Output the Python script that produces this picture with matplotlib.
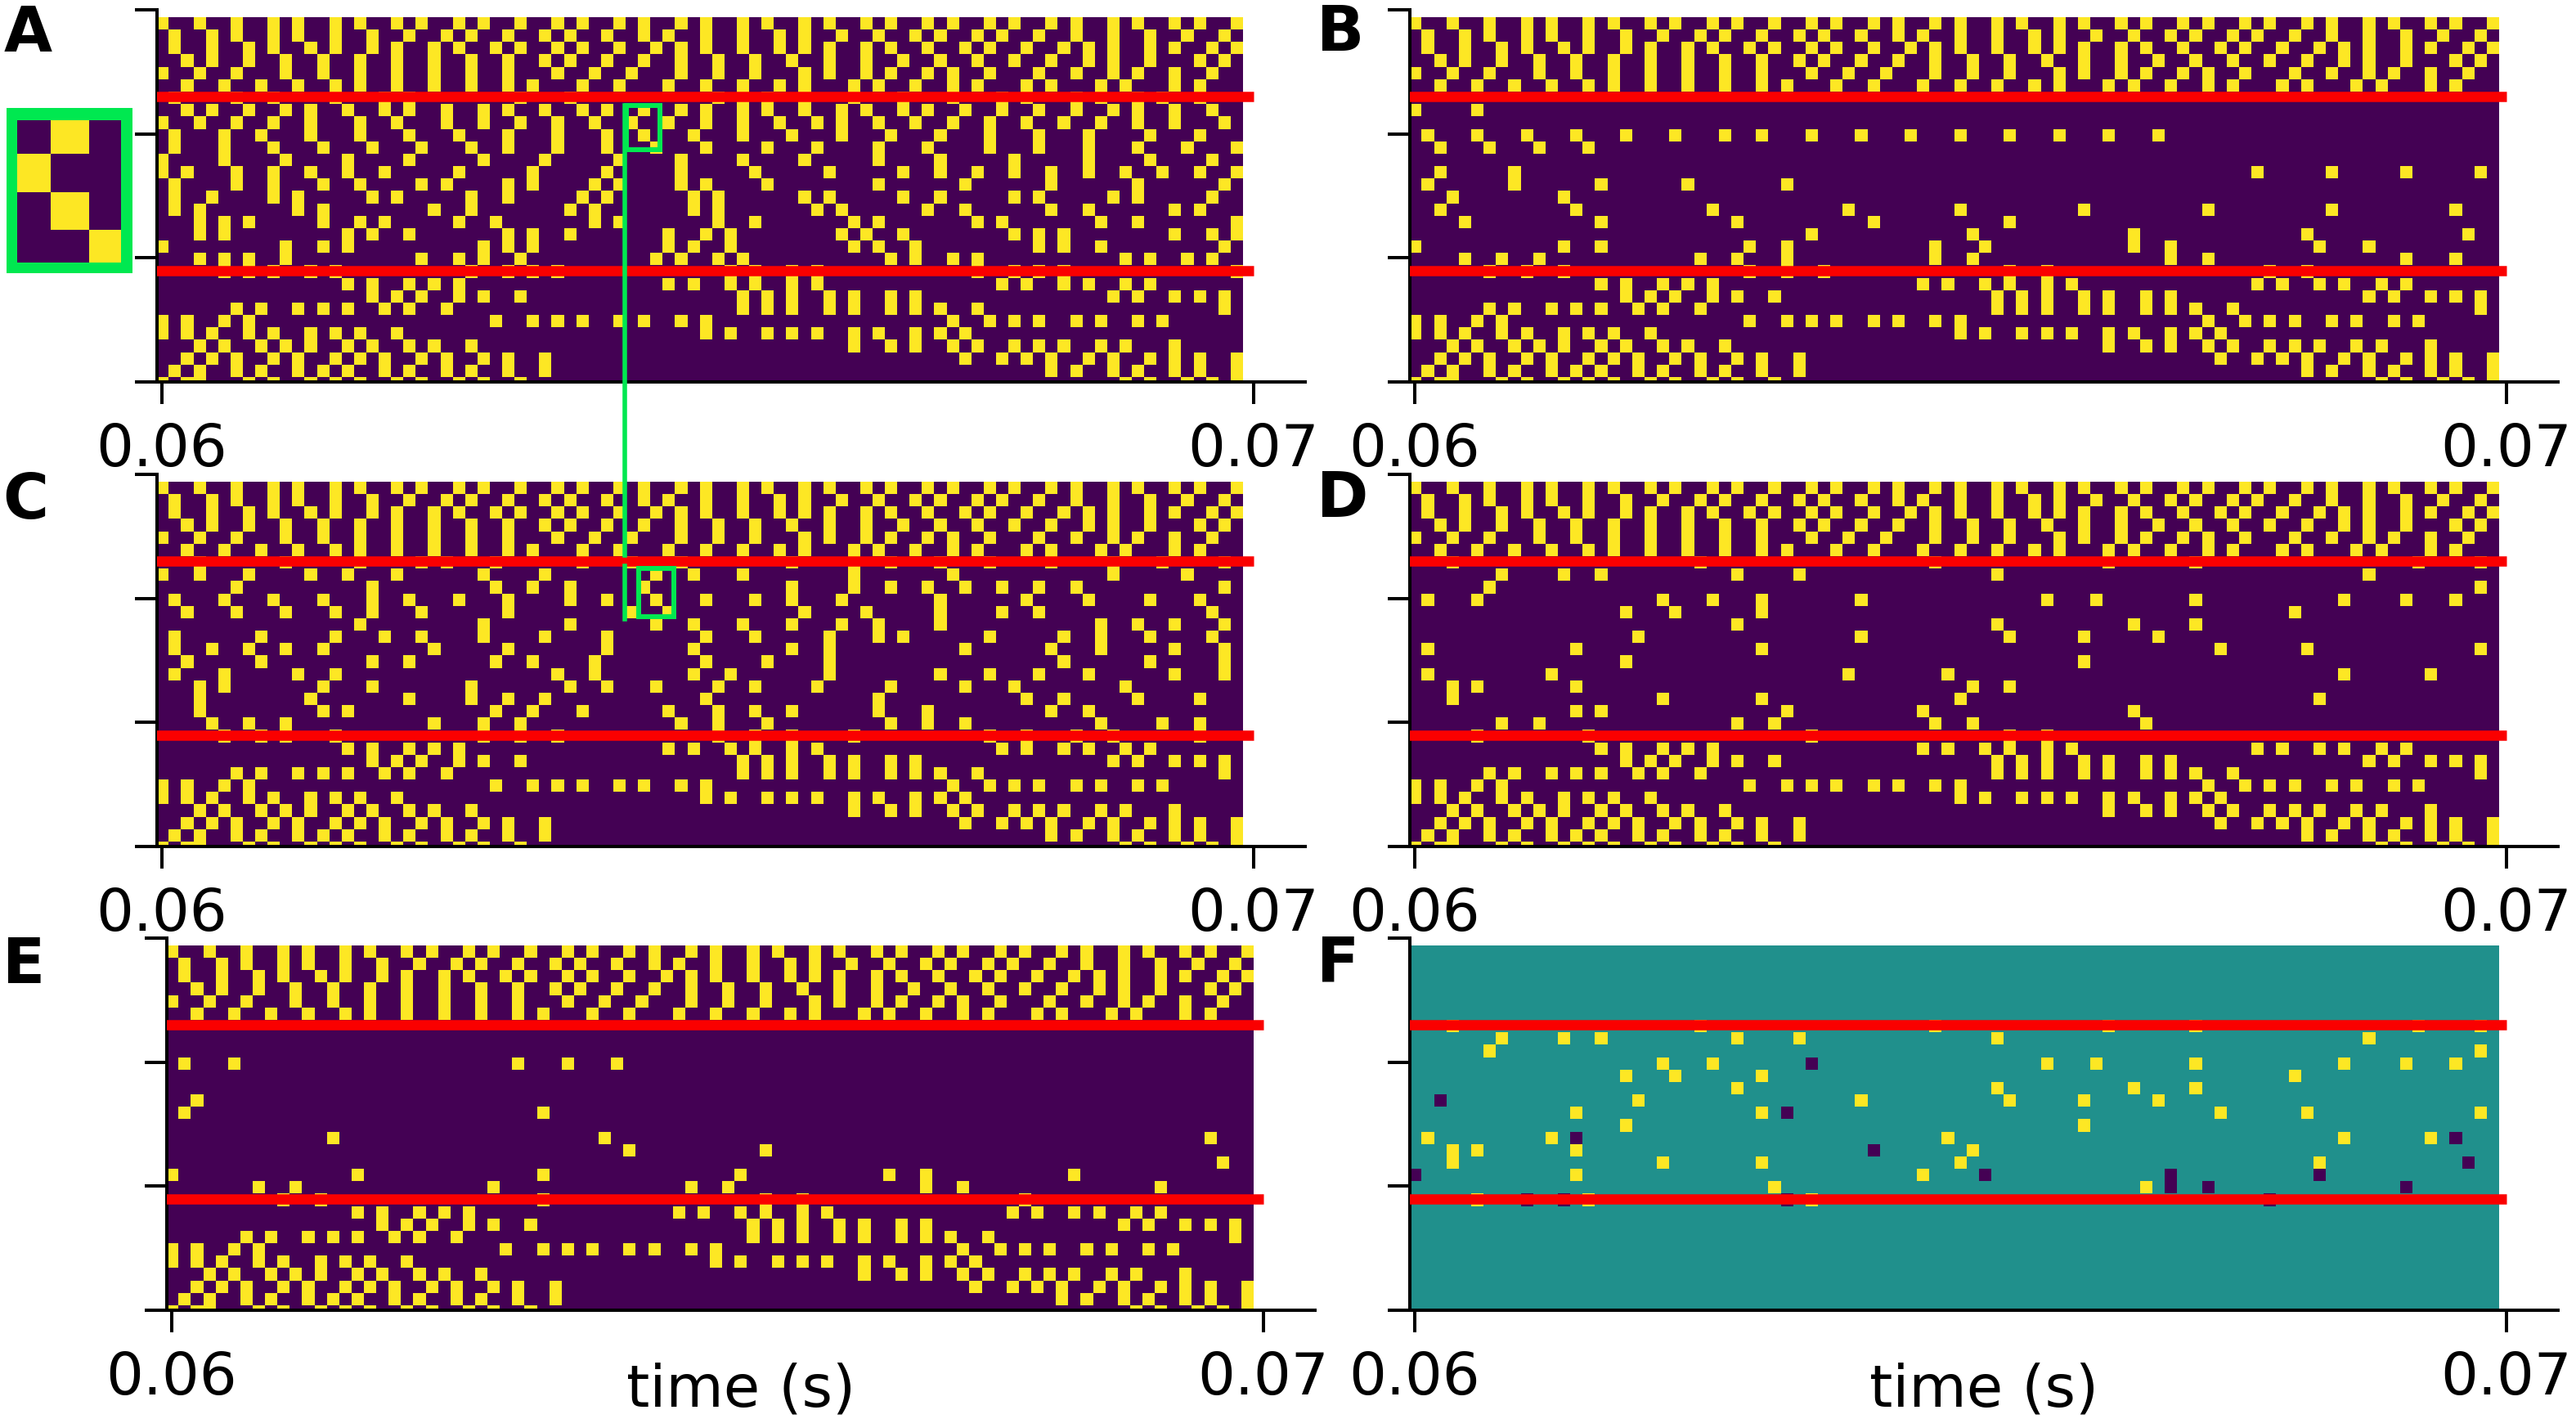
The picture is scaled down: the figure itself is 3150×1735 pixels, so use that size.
import numpy as np
import matplotlib
matplotlib.use('Agg')
import matplotlib.pyplot as plt
from matplotlib.patches import Rectangle
from matplotlib.lines import Line2D

W, H = 3150, 1735
n_rows, n_cols = 30, 88

# spike columns per row, rows 0-5 are the same in panels A-E
input_rows = [
    [0,3,6,9,11,14,16,19,21,24,26,29,32,34,37,39,42,44,47,49,52,54,57,59,62,64,67,69,72,74,77,79,82,84,87],
    [1,4,6,9,11,14,17,20,23,25,28,31,33,36,39,41,44,47,50,52,55,58,61,63,66,68,71,74,77,80,83,86],
    [1,4,7,9,12,14,17,19,22,24,27,29,32,34,37,40,42,44,47,50,52,54,57,59,62,65,67,70,73,75,77,80,82,85,87],
    [2,4,7,10,13,16,19,22,25,28,31,33,36,39,42,45,48,51,54,57,60,63,66,69,72,75,77,80,84,86],
    [0,3,6,10,13,16,19,22,25,28,32,35,38,42,45,48,52,54,57,59,62,64,67,71,74,77,79,82,85],
    [2,5,8,11,14,16,19,22,25,28,30,34,37,41,44,47,50,52,56,58,61,64,66,70,72,76,78,82,84],
]

# rows 21-29, also shared
output_rows = [
    [15,17,20,22,24,41,43,46,48,51,53,68,70,73,75,78,80],
    [17,19,21,24,26,29,47,49,51,54,56,59,61,77,79,82,84,86],
    [6,8,11,13,15,18,20,23,47,49,51,54,56,59,61,63,66,86],
    [0,2,5,7,27,30,32,34,37,39,42,44,64,67,69,71,74,76,79,81],
    [0,2,4,7,9,12,14,16,19,44,46,49,51,53,56,58,61,63,65],
    [3,5,8,10,12,15,17,20,22,25,56,59,61,64,66,69,71,73,76,78,82],
    [2,4,6,9,11,14,16,18,21,23,26,28,31,65,68,70,72,75,77,80,82,84,87],
    [1,3,6,8,11,13,15,18,20,23,25,28,31,72,74,77,79,82,84,87],
    [0,2,3,7,9,12,14,16,19,21,24,26,29,78,80,83,85,87],
]

# rows 6-20 for each panel
middle_a = [
    [1,6,9,14,18,20,29,33,45,47,49,52,56,60,64,68,70,74,76,79,81,84],
    [2,4,7,10,12,15,18,20,23,26,28,31,34,36,39,42,44,47,49,52,55,57,60,62,65,68,71,74,77,79,82,85],
    [0,3,6,9,12,16,19,23,26,29,32,35,38,41,44,47,50,53,55,58,61,64,67,70,73,76,79,82,86],
    [1,5,8,12,16,20,24,28,32,36,39,43,47,51,55,59,63,67,71,75,80,84],
    [1,5,9,13,17,21,25,28,32,36,40,44,49,53,58,62,67,71,75,79,83,87],
    [0,5,10,15,20,26,31,37,42,47,52,58,63,69,75,80,85],
    [0,2,6,9,12,15,18,24,30,36,42,48,54,60,63,66,69,72,75,78,81,84,87],
    [1,6,9,13,16,21,23,28,30,35,37,42,44,49,58,65,72,79,86],
    [1,4,9,11,17,19,25,28,34,36,43,45,52,54,60,63,69,71,77,79,85],
    [1,3,11,13,22,25,33,35,43,45,53,55,62,65,72,75,82,84],
    [3,5,7,13,16,18,24,27,35,37,45,48,56,58,66,68,76,79,87],
    [3,5,15,17,20,28,30,33,41,44,46,55,57,60,69,71,73,82,85,87],
    [0,10,13,15,26,28,30,41,43,46,56,58,61,71,73,76,86],
    [3,5,7,10,21,24,26,29,40,42,45,47,59,61,64,66,78,80,83,85],
    [5,7,9,12,14,25,28,30,32,46,48,51,53,66,69,71,73,87],
]
middle_b = [
    [],
    [0,5],
    [],
    [1,5,9,13,17,21,25,28,32,36,40,44,48,52,56,60],
    [2,6,10,14],
    [],
    [2,8,68,74,80,86],
    [1,8,15,22,30],
    [3,12],
    [2,13,24,35,44,54,64,74,84],
    [4,15,26,37,48],
    [32,45,58,72,85],
    [0,12,15,27,30,42,46,58,61,73,77],
    [4,7,10,23,26,30,42,45,61,64,80,84],
    [6,9,12,27,30,33,48,51,69,72],
]
middle_c = [
    [3,10,16,21,23,27,34,38,42,51,56,59,63,67,72,77,81,86],
    [0,3,7,12,15,19,26,31,40,43,47,56,64,77,83],
    [6,17,27,30,33,39,51,56,59,62,65,68,71,74,86],
    [1,5,9,13,17,20,24,28,33,36,40,44,48,51,55,63,70,75,80,84],
    [2,6,10,14,17,21,28,38,41,52,57,63,68,71,85],
    [16,26,33,40,43,47,51,55,58,63,76,79,82,86],
    [1,8,14,18,21,26,31,36,44,48,54,58,60,67,73,76,80,85],
    [1,4,7,10,13,22,28,36,43,51,54,65,72,76,82,86],
    [2,8,17,20,27,30,35,44,49,54,73,80,86],
    [1,5,11,14,32,35,43,46,54,63,67,71,75,82,86],
    [3,5,13,17,25,33,36,40,45,48,53,59,65,69,78],
    [3,12,20,25,28,31,44,58,70,73,79,84],
    [3,13,15,27,30,34,41,45,48,51,58,62,72,75],
    [4,7,10,22,26,29,42,45,49,59,62,65,76,81,84],
    [5,8,10,14,26,29,32,45,48,51,56,67,70,74,77,84],
]
middle_d = [
    [3,23,42,56,63,81,86],
    [7,12,15,26,31,47,77],
    [6,86],
    [1,5,20,24,28,36,51,55,63,75,80,84],
    [17,21,28,71],
    [26,47,58,63],
    [18,36,48,54,60],
    [1,13,28,65,72,86],
    [17,54],
    [1,11,35,43,75,82],
    [3,5,13,45,48],
    [3,20,28,44,73],
    [13,15,30,41,58],
    [7,10,26,29,42,45,59],
    [5,14,32,48,51],
]
middle_e = [
    [],
    [],
    [],
    [1,5,28,32,36],
    [],
    [],
    [2],
    [1,30],
    [],
    [13,35,84],
    [37,48],
    [85],
    [0,15,30,46,58,61,73],
    [7,10,26,42,45,61,64,80],
    [9,12,30,48,51,69],
]

x_ticks = [0.06, 0.07]
x_tick_labels = ['0.06', '0.07']
y_ticks = [0, 10, 20, 30]
layer_bounds = [7, 21]


def raster(middle):
    grid = np.zeros((n_rows, n_cols))
    for r, cols in enumerate(input_rows + middle + output_rows):
        grid[r, cols] = 1
    return grid


def px_axes(left, top, right, bottom, **kw):
    return fig.add_axes([left / W, 1 - bottom / H, (right - left) / W, (bottom - top) / H], **kw)


def px_line(xs, ys, **kw):
    fig.add_artist(Line2D([x / W for x in xs], [1 - y / H for y in ys], transform=fig.transFigure, **kw))


def px_box(left, top, right, bottom, **kw):
    fig.add_artist(Rectangle((left / W, 1 - bottom / H), (right - left) / W, (bottom - top) / H,
                             transform=fig.transFigure, **kw))


panel_a = raster(middle_a)
panel_b = raster(middle_b)
panel_c = raster(middle_c)
panel_d = raster(middle_d)
panel_e = raster(middle_e)
panel_f = panel_d - panel_e

fig = plt.figure(figsize=(W / 100, H / 100), dpi=100)

t_per_px = 0.01 / 1335
green = '#00e850'


def draw_panel(grid, left, top, letter, letter_x, letter_y, vmin=0, vmax=1, xlabel=None, t_end=0.0699):
    ax = px_axes(left, top, left + 1404, top + 455)
    t0 = 0.06 - 6 * t_per_px
    t1 = 0.06 + 1398 * t_per_px
    ax.imshow(grid, cmap='viridis', vmin=vmin, vmax=vmax, aspect='auto', interpolation='nearest',
              extent=[0.05995, t_end, 30.6, 0.6])
    ax.hlines(layer_bounds, 0.05995, 0.07, color='#fa0000', linewidth=9, zorder=3)
    ax.set_xlim(t0, t1)
    ax.set_ylim(30, 0)
    ax.set_xticks(x_ticks)
    ax.set_xticklabels(x_tick_labels)
    ax.set_yticks(y_ticks)
    ax.set_yticklabels([])
    ax.tick_params(length=19.5, width=2.9, labelsize=52, pad=16)
    for side in ['top', 'right']:
        ax.spines[side].set_visible(False)
    for side in ['left', 'bottom']:
        ax.spines[side].set_linewidth(2.9)
    if xlabel:
        ax.set_xlabel(xlabel, fontsize=52, va='top')
        ax.xaxis.set_label_coords(0.5, -0.14)
    fig.text(letter_x / W, 1 - letter_y / H, letter, fontsize=55, fontweight='bold', ha='left', va='baseline')
    return ax


draw_panel(panel_a, 192, 12, 'A', 5, 63)
draw_panel(panel_b, 1724, 12, 'B', 1610, 62, t_end=0.06993)
draw_panel(panel_c, 192, 580, 'C', 3, 634)
draw_panel(panel_d, 1724, 580, 'D', 1610, 632, t_end=0.06993)
draw_panel(panel_e, 204, 1147, 'E', 3, 1202, xlabel='time (s)', t_end=0.06991)
draw_panel(panel_f, 1724, 1147, 'F', 1610, 1200, vmin=-1, vmax=1, xlabel='time (s)', t_end=0.06993)

# zoomed cut-out of the small green box in A
px_box(8, 132, 162, 334, facecolor=green, edgecolor='none', zorder=-1)
inset = px_axes(21, 147, 148, 321)
inset.imshow(panel_a[7:11, 38:41], cmap='viridis', vmin=0, vmax=1, aspect='auto', interpolation='nearest',
             extent=[0, 3, 4, 0])
inset.set_xlim(0.13, 2.83)
inset.set_ylim(3.87, 0.1)
inset.axis('off')

# green boxes and the line joining A and C
px_box(766, 129, 807, 183, facecolor='none', edgecolor=green, linewidth=4.3, zorder=5)
px_box(781, 695, 824, 754, facecolor='none', edgecolor=green, linewidth=4.3, zorder=5)
px_line([764, 764], [129, 679], color=green, linewidth=4, zorder=5)
px_line([764, 764], [692, 757], color=green, linewidth=4, zorder=5)

fig.savefig('out.png', dpi=100)
